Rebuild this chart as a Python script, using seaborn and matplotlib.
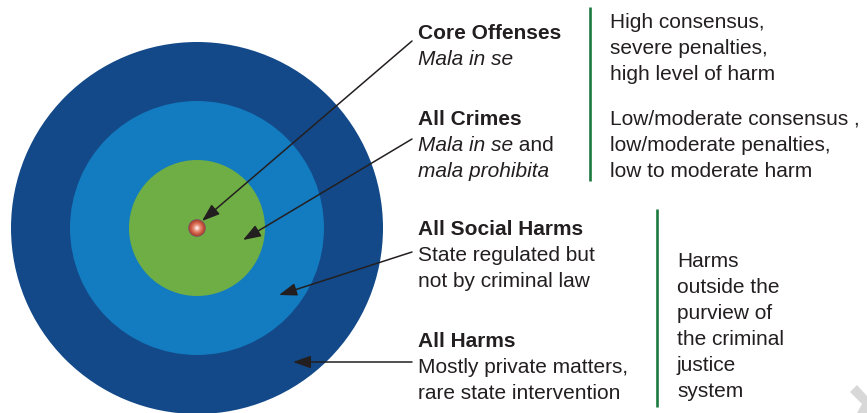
import matplotlib
matplotlib.use("Agg")
import matplotlib.pyplot as plt
from matplotlib.patches import Circle, Polygon, FancyArrowPatch
import numpy as np
import seaborn as sns

# ── Styling ──────────────────────────────────────────────────────────────────
sns.set_theme(style="white")
plt.rcParams["font.family"] = ["Liberation Sans", "DejaVu Sans"]
TEXT_COLOR = "#231f20"
FONT_SIZE = 15

# ── Data (diagram measured in pixels) ────────────────────────────────────────
center = (197, 229)
ring_names = ["All Harms", "All Social Harms", "All Crimes"]
ring_radii = [186, 127, 68]
ring_colors = ["#134988", "#137bbf", "#6fae44"]
core_radius = 8

label_titles = ["Core Offenses", "All Crimes", "All Social Harms", "All Harms"]
# each sub-line is a list of (text, style) pieces
label_lines = [
    [[("Mala in se", "italic")]],
    [[("Mala in se", "italic"), (" and", "normal")],
     [("mala prohibita", "italic")]],
    [[("State regulated but", "normal")],
     [("not by criminal law", "normal")]],
    [[("Mostly private matters,", "normal")],
     [("rare state intervention", "normal")]],
]
label_top = [39, 125, 235, 347]

arrow_tips = [(202, 222), (243, 241), (279, 296), (293, 363)]
arrow_tails = [(412, 42), (412, 140), (412, 253), (412, 363)]

note_blocks = [
    ["High consensus,", "severe penalties,", "high level of harm"],
    ["Low/moderate consensus ,", "low/moderate penalties,", "low to moderate harm"],
    ["Harms", "outside the", "purview of", "the criminal", "justice", "system"],
]
note_x = [610, 610, 677]
note_top = [28, 125, 267]

divider_x = [590, 657]
divider_spans = [(8, 182), (210, 408)]

LINE_STEP = 26

fig = plt.figure(figsize=(8.67, 4.14), dpi=100)
ax = fig.add_axes([0, 0, 1, 1])
ax.set_xlim(0, 867)
ax.set_ylim(414, 0)
ax.set_aspect("equal")
ax.axis("off")

# rings
for r, c in zip(ring_radii, ring_colors):
    ax.add_patch(Circle(center, r, facecolor=c, edgecolor="none", zorder=1))

# shaded core sphere
shades = sns.blend_palette(["#b0432f", "#d4644c", "#e99a86", "#fff4f0"], 16)
ax.add_patch(Circle(center, core_radius + 0.8, facecolor="#7a5566", edgecolor="none", zorder=2))
for i, r in enumerate(np.linspace(core_radius, 0.7, len(shades))):
    ax.add_patch(Circle(center, r, facecolor=shades[i], edgecolor="none", zorder=3))

# arrows
for tail, tip in zip(arrow_tails, arrow_tips):
    ax.add_patch(FancyArrowPatch(tail, tip,
                                 arrowstyle="-|>,head_length=0.9,head_width=0.32",
                                 mutation_scale=12, lw=1.1, color=TEXT_COLOR,
                                 shrinkA=0, shrinkB=0, zorder=4))

# labels
renderer = fig.canvas.get_renderer()
for title, lines, y0 in zip(label_titles, label_lines, label_top):
    ax.text(418, y0, title, fontsize=FONT_SIZE, fontweight="bold",
            color=TEXT_COLOR, va="baseline", ha="left")
    for k, pieces in enumerate(lines):
        y = y0 + LINE_STEP * (k + 1)
        prev = None
        for txt, style in pieces:
            if prev is None:
                prev = ax.text(418, y, txt, fontsize=FONT_SIZE, fontstyle=style,
                               color=TEXT_COLOR, va="baseline", ha="left")
            else:
                prev.draw(renderer)
                prev = ax.annotate(txt, xy=(1, 0), xycoords=prev,
                                   fontsize=FONT_SIZE, fontstyle=style,
                                   color=TEXT_COLOR, va="bottom", ha="left")

for lines, x, y0 in zip(note_blocks, note_x, note_top):
    for k, line in enumerate(lines):
        ax.text(x, y0 + LINE_STEP * k, line, fontsize=FONT_SIZE,
                color=TEXT_COLOR, va="baseline", ha="left")

for x, (y1, y2) in zip(divider_x, divider_spans):
    ax.plot([x, x], [y1, y2], color="#1c7a3f", lw=1.9, solid_capstyle="butt")

# page-corner chevron
ax.add_patch(Polygon([(850, 393), (857, 386), (867, 397), (867, 414),
                      (857, 414), (862, 405)], closed=True,
                     facecolor="#d8d8d8", edgecolor="none"))

fig.savefig("out.png", dpi=100)
